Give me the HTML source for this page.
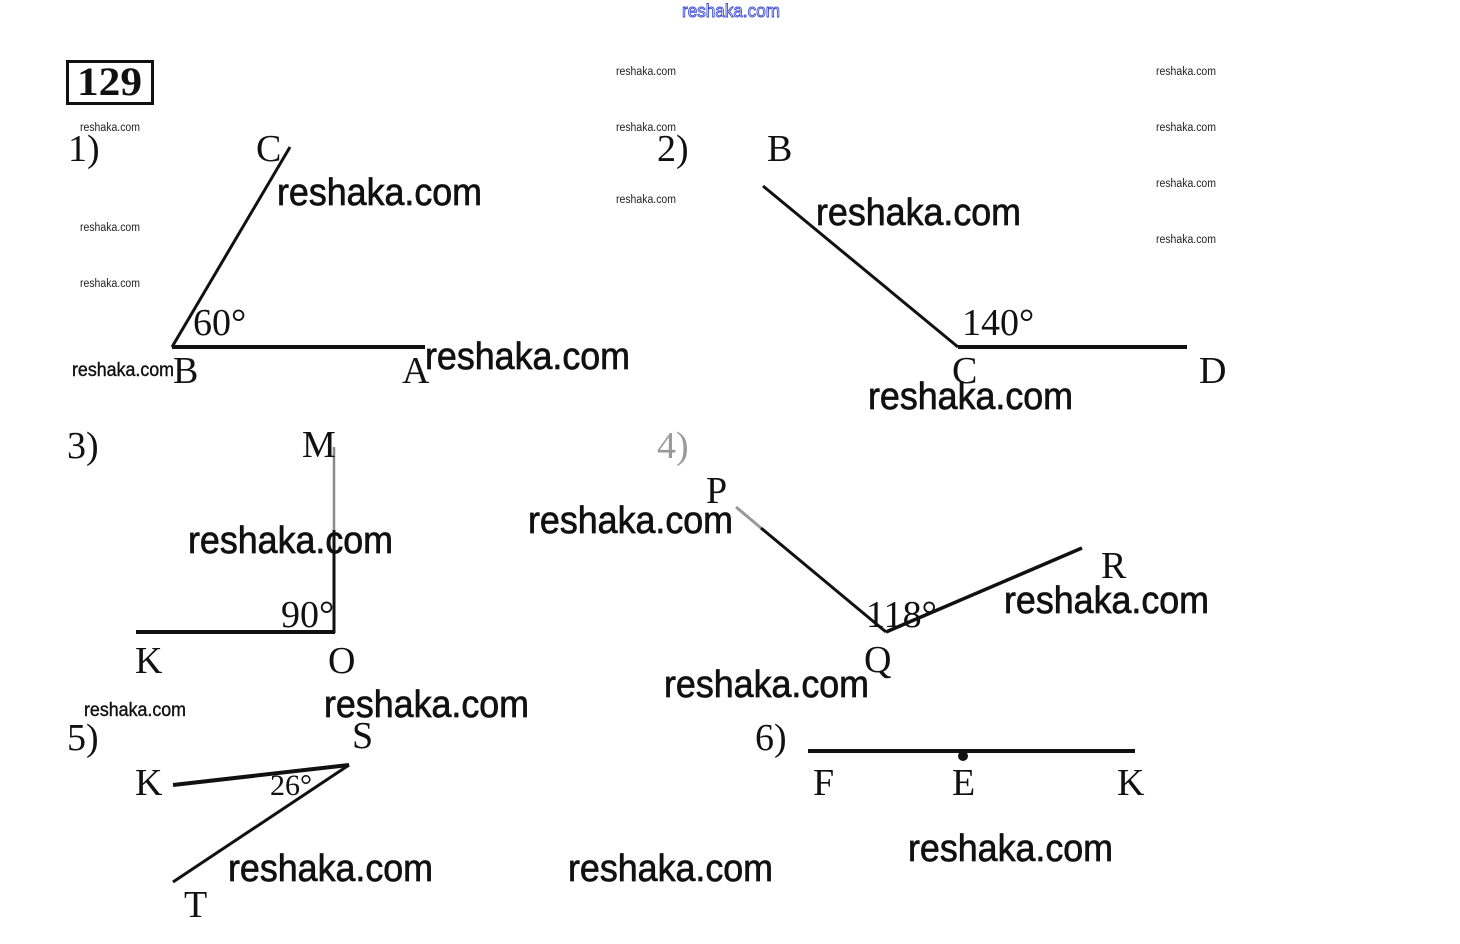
<!DOCTYPE html>
<html><head><meta charset="utf-8"><style>
html,body{margin:0;padding:0;background:#fff;}
svg{display:block;}
.s{font-family:"Liberation Serif",serif;font-size:38px;fill:#111;}
.w{font-family:"Liberation Sans",sans-serif;font-size:38px;fill:#111;stroke:#111;stroke-width:0.7px;}
.sm{font-family:"Liberation Sans",sans-serif;font-size:11.5px;fill:#222;}
.md{font-family:"Liberation Sans",sans-serif;font-size:19px;fill:#111;stroke:#111;stroke-width:0.4px;}
</style></head><body>
<svg width="1460" height="944" viewBox="0 0 1460 944" xmlns="http://www.w3.org/2000/svg">
<rect width="1460" height="944" fill="#fff"/>
<!-- top blue -->
<text x="682" y="17" font-family="Liberation Sans, sans-serif" font-size="18" fill="#fff" stroke="#3b4bd4" stroke-width="0.9" textLength="98" lengthAdjust="spacingAndGlyphs">reshaka.com</text>
<!-- box 129 -->
<rect x="67.5" y="61.5" width="85" height="42" fill="none" stroke="#111" stroke-width="3"/>
<text x="77" y="95" font-family="Liberation Serif, serif" font-weight="bold" font-size="40" fill="#111" textLength="65" lengthAdjust="spacingAndGlyphs">129</text>
<!-- small watermarks -->
<g class="sm">
<text x="80" y="131" textLength="60" lengthAdjust="spacingAndGlyphs">reshaka.com</text>
<text x="80" y="231" textLength="60" lengthAdjust="spacingAndGlyphs">reshaka.com</text>
<text x="80" y="287" textLength="60" lengthAdjust="spacingAndGlyphs">reshaka.com</text>
<text x="616" y="75" textLength="60" lengthAdjust="spacingAndGlyphs">reshaka.com</text>
<text x="616" y="131" textLength="60" lengthAdjust="spacingAndGlyphs">reshaka.com</text>
<text x="616" y="203" textLength="60" lengthAdjust="spacingAndGlyphs">reshaka.com</text>
<text x="1156" y="75" textLength="60" lengthAdjust="spacingAndGlyphs">reshaka.com</text>
<text x="1156" y="131" textLength="60" lengthAdjust="spacingAndGlyphs">reshaka.com</text>
<text x="1156" y="187" textLength="60" lengthAdjust="spacingAndGlyphs">reshaka.com</text>
<text x="1156" y="243" textLength="60" lengthAdjust="spacingAndGlyphs">reshaka.com</text>
</g>
<g class="md">
<text x="72" y="376" textLength="102" lengthAdjust="spacingAndGlyphs">reshaka.com</text>
<text x="84" y="716" textLength="102" lengthAdjust="spacingAndGlyphs">reshaka.com</text>
</g>
<!-- lines -->
<g stroke="#111" stroke-linecap="butt" fill="none">
<!-- fig1 -->
<line x1="290" y1="147" x2="172" y2="347" stroke-width="3"/>
<line x1="172" y1="347" x2="425" y2="347" stroke-width="4"/>
<!-- fig2 -->
<line x1="763" y1="186" x2="958" y2="347" stroke-width="3"/>
<line x1="958" y1="347" x2="1187" y2="347" stroke-width="4"/>
<!-- fig3 -->
<line x1="334" y1="447" x2="334" y2="530" stroke="#8a8a8a" stroke-width="2.5"/>
<line x1="334" y1="530" x2="334" y2="633" stroke-width="3"/>
<line x1="136" y1="632" x2="335" y2="632" stroke-width="4"/>
<!-- fig4 -->
<line x1="736" y1="507" x2="761" y2="528" stroke="#999" stroke-width="3"/>
<line x1="761" y1="528" x2="886" y2="632" stroke-width="3"/>
<line x1="886" y1="632" x2="1082" y2="548" stroke-width="3.5"/>
<!-- fig5 -->
<line x1="173" y1="785" x2="349" y2="765" stroke-width="4"/>
<line x1="173" y1="882" x2="349" y2="765" stroke-width="3"/>
<!-- fig6 -->
<line x1="808" y1="751" x2="1135" y2="751" stroke-width="4"/>
</g>
<circle cx="963" cy="756" r="5" fill="#111"/>
<!-- labels -->
<g class="s">
<text x="68" y="161">1)</text>
<text x="256" y="161">C</text>
<text x="193" y="335">60°</text>
<text x="173" y="383">B</text>
<text x="402" y="383">A</text>

<text x="657" y="161">2)</text>
<text x="767" y="161">B</text>
<text x="962" y="335">140°</text>
<text x="952" y="383">C</text>
<text x="1199" y="383">D</text>

<text x="67" y="458">3)</text>
<text x="302" y="457">M</text>
<text x="281" y="627">90°</text>
<text x="135" y="673">K</text>
<text x="328" y="673">O</text>

<text x="657" y="458" style="fill:#9a9a9a">4)</text>
<text x="706" y="503">P</text>
<text x="866" y="627">118°</text>
<text x="1101" y="578">R</text>
<text x="864" y="672">Q</text>

<text x="67" y="750">5)</text>
<text x="352" y="748">S</text>
<text x="135" y="795">K</text>
<text x="270" y="795" style="font-size:30px">26°</text>
<text x="184" y="917">T</text>

<text x="755" y="750">6)</text>
<text x="813" y="795">F</text>
<text x="952" y="795">E</text>
<text x="1117" y="795">K</text>
</g>
<!-- big watermarks -->
<g class="w">
<text x="277" y="205" textLength="205" lengthAdjust="spacingAndGlyphs">reshaka.com</text>
<text x="425" y="369" textLength="205" lengthAdjust="spacingAndGlyphs">reshaka.com</text>
<text x="816" y="225" textLength="205" lengthAdjust="spacingAndGlyphs">reshaka.com</text>
<text x="868" y="409" textLength="205" lengthAdjust="spacingAndGlyphs">reshaka.com</text>
<text x="188" y="553" textLength="205" lengthAdjust="spacingAndGlyphs">reshaka.com</text>
<text x="528" y="533" textLength="205" lengthAdjust="spacingAndGlyphs">reshaka.com</text>
<text x="1004" y="613" textLength="205" lengthAdjust="spacingAndGlyphs">reshaka.com</text>
<text x="664" y="697" textLength="205" lengthAdjust="spacingAndGlyphs">reshaka.com</text>
<text x="324" y="717" textLength="205" lengthAdjust="spacingAndGlyphs">reshaka.com</text>
<text x="228" y="881" textLength="205" lengthAdjust="spacingAndGlyphs">reshaka.com</text>
<text x="568" y="881" textLength="205" lengthAdjust="spacingAndGlyphs">reshaka.com</text>
<text x="908" y="861" textLength="205" lengthAdjust="spacingAndGlyphs">reshaka.com</text>
</g>
</svg>
</body></html>
